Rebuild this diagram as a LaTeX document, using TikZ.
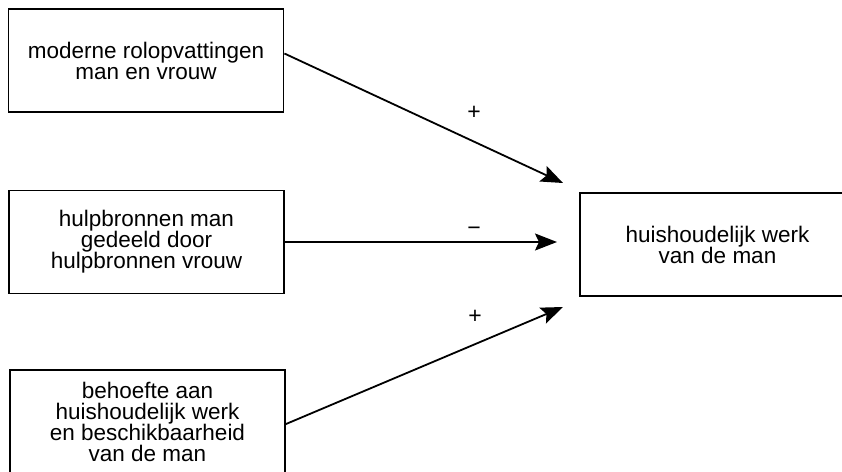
\documentclass[tikz,border=0pt]{standalone}
\usepackage{fontspec}
\setmainfont{Liberation Sans}
\usetikzlibrary{arrows.meta}

\begin{document}
\begin{tikzpicture}[x=1pt, y=-1pt,
	box/.style={draw, line width=1.8pt, minimum width=275pt, minimum height=103pt, inner ysep=12pt, align=center, font=\fontsize{22.5}{21}\selectfont},
	pijl/.style={line width=1.8pt, -{Stealth[length=22pt, width=17pt, inset=4pt]}},
	teken/.style={font=\fontsize{23}{21}\selectfont}]
			%%%%% START %%%%%
			
			\useasboundingbox (0, 0) rectangle (842, 471);
			
			\node[box] (rol) at (146, 60.5) {moderne rolopvattingen\\man en vrouw};
			\node[box] (hulp) at (146.5, 242) {hulpbronnen man\\gedeeld door\\hulpbronnen vrouw};
			\node[box, minimum height=0pt, text depth=5pt, anchor=north] (behoefte) at (147.5, 369) {behoefte aan\\huishoudelijk werk\\en beschikbaarheid\\van de man};
			
			\node[box] (werk) at (717.5, 244.5) {huishoudelijk werk\\van de man};
			
			\coordinate (eind1) at (563, 183);
			\coordinate (eind2) at (557, 242);
			\coordinate (eind3) at (563, 307);
			
			\draw[pijl] ([yshift=7pt]rol.east) -- (eind1);
			\draw[pijl] (hulp.east) -- (eind2);
			\draw[pijl] (behoefte.east) -- (eind3);
			
			\node[teken] (plus1) at (474, 113) {+};
			\node[teken] (min) at (474, 231) {−};
			\node[teken] (plus2) at (475, 317) {+};
			
			%%%%% END %%%%%
\end{tikzpicture}
\end{document}
